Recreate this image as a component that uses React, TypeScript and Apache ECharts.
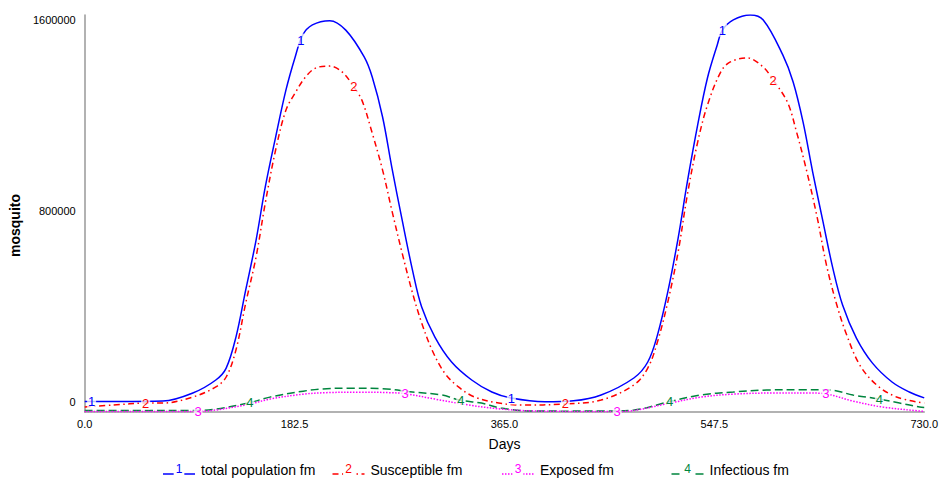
import React, { useEffect, useRef } from "react";
import * as echarts from "echarts";

// ---- data ----
const seriesNames = ["total population fm", "Susceptible fm", "Exposed fm", "Infectious fm"];
const seriesMarks = ["1", "2", "3", "4"];
const seriesColors = ["#0000ff", "#ff0000", "#ff00ff", "#00853e"];

const totalDays = [0, 30, 68, 94, 114, 123, 131.5, 140, 149, 157, 166, 175, 183, 189.5, 198, 213, 227, 243, 250, 259, 267, 276, 285, 293, 304.5, 319, 336.5, 354, 371, 400, 425, 449, 477.5, 489.6, 498, 507, 516, 524, 533, 541.5, 550, 554.5, 564, 578.7, 590, 607, 616, 624.6, 633, 642, 650.5, 659, 671, 685, 702, 717, 730];
const totalValues = [42000, 42000, 44000, 76600, 129000, 177000, 302000, 492000, 693000, 907000, 1108000, 1298000, 1431000, 1519000, 1560000, 1577000, 1539000, 1431000, 1350000, 1189000, 987000, 774000, 572000, 423000, 302000, 201500, 129000, 80600, 56000, 41000, 45000, 68500, 137000, 201500, 310000, 484000, 701000, 927000, 1157000, 1346000, 1479000, 1539000, 1580000, 1600000, 1580000, 1439000, 1330000, 1169000, 967000, 766000, 580000, 431000, 298000, 197000, 121000, 80600, 57000];

const susceptibleDays = [0, 25, 53, 68, 94, 114, 123, 131.5, 140, 149, 157, 166, 175, 183, 192, 200.7, 213, 224, 234, 241, 250, 259, 267, 276, 285, 293, 302, 313, 325, 339, 360, 380, 417, 449, 477.5, 489.6, 498, 507, 516, 524, 533, 541.5, 553, 561, 576, 590, 598.6, 611, 619, 628, 637, 645, 654, 662.6, 674, 688.6, 706, 730];
const susceptibleValues = [20000, 28000, 36000, 36000, 60500, 101000, 141000, 250000, 439000, 625000, 842000, 1056000, 1217000, 1286000, 1350000, 1386000, 1394000, 1370000, 1310000, 1257000, 1124000, 975000, 814000, 641000, 480000, 359000, 250000, 157000, 101000, 60500, 36000, 28000, 32000, 48000, 109000, 177000, 282000, 443000, 645000, 875000, 1088000, 1237000, 1370000, 1410000, 1427000, 1390000, 1338000, 1249000, 1128000, 967000, 782000, 592000, 431000, 310000, 189000, 109000, 60500, 36000];

const exposedDays = [0, 94, 114, 143.6, 161, 190, 210, 240, 265, 278.5, 304.5, 334, 362, 391, 462, 477.5, 507, 536, 564, 600, 630, 645, 668, 694, 726, 730];
const exposedValues = [2000, 2000, 8000, 32000, 52000, 72000, 78000, 80000, 78000, 74000, 52000, 28000, 12000, 4000, 2000, 6000, 34000, 60000, 72000, 76500, 76500, 72500, 44000, 20000, 4000, 3000];

const infectiousDays = [0, 50, 94, 114, 143.6, 161, 190, 207, 230, 259, 285, 310.5, 326, 345, 362, 391, 449, 477.5, 507, 535.5, 564, 593, 622, 648, 668, 691, 708.5, 726, 730];
const infectiousValues = [6000, 6000, 6000, 12000, 38000, 60000, 84000, 93000, 96000, 94000, 80600, 68500, 48000, 36000, 16000, 4000, 4000, 8000, 40000, 68500, 80600, 88700, 90000, 88700, 68500, 52000, 36000, 20000, 18000];

// days at which each curve carries its number label
const labelDays = [
  [6, 188, 371, 554.5],
  [53, 234, 418, 598.6],
  [98.6, 278.5, 463, 644.5],
  [143.6, 327, 508.6, 691],
];

const xMin = 0;
const xMax = 730;
const xStep = 182.5;
const yMin = 0;
const yMax = 1600000;
const yStep = 800000;

const FONT = "'Liberation Sans', Arial, Helvetica, sans-serif";

function interp(days: number[], vals: number[], d: number) {
  for (let i = 0; i < days.length - 1; i++) {
    if (d >= days[i] && d <= days[i + 1]) {
      const t = (d - days[i]) / (days[i + 1] - days[i]);
      return vals[i] + t * (vals[i + 1] - vals[i]);
    }
  }
  return vals[vals.length - 1];
}

export default function App() {
  const ref = useRef<HTMLDivElement>(null);

  useEffect(() => {
    if (!ref.current) return;
    const chart = echarts.init(ref.current, undefined, { renderer: "svg" });

    const daysList = [totalDays, susceptibleDays, exposedDays, infectiousDays];
    const valsList = [totalValues, susceptibleValues, exposedValues, infectiousValues];
    const dashes: any[] = ["solid", [6, 3.5, 1.5, 3.5], [1.5, 1.5], [8, 4]];

    const series = seriesNames.map((name, i) => ({
      name,
      type: "line",
      smooth: 0.35,
      symbol: "none",
      data: daysList[i].map((d, k) => [d, valsList[i][k]]),
      lineStyle: { color: seriesColors[i], width: 1.5, type: dashes[i] },
      itemStyle: { color: seriesColors[i] },
      z: 4 - i,
      markPoint: {
        silent: true,
        symbol: "rect",
        symbolSize: [9, 13],
        itemStyle: { color: "rgba(255,255,255,0.75)" },
        label: {
          show: true,
          position: "inside",
          formatter: seriesMarks[i],
          color: seriesColors[i],
          fontSize: 13,
          fontFamily: FONT,
        },
        data: labelDays[i].map((d) => ({
          coord: [d, interp(daysList[i], valsList[i], d)],
        })),
      },
    }));

    const legendItems: any[] = [];
    seriesNames.forEach((name, i) => {
      const x0 = 163 + 169.5 * i;
      legendItems.push({
        type: "line",
        shape: { x1: x0, y1: 474, x2: x0 + 32, y2: 474 },
        style: {
          stroke: seriesColors[i],
          lineWidth: 1.5,
          lineDash: dashes[i] === "solid" ? null : dashes[i],
        },
        z: 10,
      });
      legendItems.push({
        type: "text",
        x: x0 + 16,
        y: 469,
        style: {
          text: seriesMarks[i],
          fill: seriesColors[i],
          font: `12px ${FONT}`,
          align: "center",
          verticalAlign: "middle",
          backgroundColor: "#fff",
          padding: [0, 2],
        },
        z: 11,
      });
      legendItems.push({
        type: "text",
        x: x0 + 38,
        y: 470,
        style: {
          text: name,
          fill: "#000",
          font: `14px ${FONT}`,
          align: "left",
          verticalAlign: "middle",
        },
        z: 11,
      });
    });

    chart.setOption({
      animation: false,
      backgroundColor: "#fff",
      textStyle: { fontFamily: FONT },
      grid: { left: 81, right: 16, top: 15, bottom: 69, containLabel: false },
      xAxis: {
        type: "value",
        min: xMin,
        max: xMax,
        interval: xStep,
        name: "Days",
        nameLocation: "middle",
        nameGap: 25,
        nameTextStyle: { fontSize: 14, color: "#000", fontFamily: FONT },
        axisLine: { show: true, lineStyle: { color: "#999", width: 1.5 } },
        axisTick: { show: false },
        splitLine: { show: false },
        axisLabel: {
          color: "#000",
          fontSize: 11,
          margin: 6,
          fontFamily: FONT,
          showMinLabel: true,
          showMaxLabel: true,
          formatter: (v: number) => v.toFixed(1),
        },
      },
      yAxis: {
        type: "value",
        min: yMin,
        max: yMax,
        interval: yStep,
        name: "mosquito",
        nameLocation: "middle",
        nameRotate: 90,
        nameGap: 57,
        nameTextStyle: {
          fontSize: 14,
          color: "#000",
          fontFamily: FONT,
          fontWeight: "bold",
          padding: [0, 24, 0, 0],
        },
        axisLine: { show: true, lineStyle: { color: "#999", width: 1.5 } },
        axisTick: { show: false },
        splitLine: { show: false },
        axisLabel: {
          color: "#000",
          fontSize: 11,
          margin: 9,
          fontFamily: FONT,
          showMinLabel: true,
          showMaxLabel: true,
          formatter: (v: number) =>
            v === yMax ? `{t|${v}}` : v === yMin ? `{b|${v}}` : `{m|${v}}`,
          rich: {
            t: { fontSize: 11, color: "#000", fontFamily: FONT, padding: [10, 0, 0, 0] },
            b: { fontSize: 11, color: "#000", fontFamily: FONT, padding: [0, 0, 20, 0] },
            m: { fontSize: 11, color: "#000", fontFamily: FONT, padding: [0, 0, 5, 0] },
          },
        },
      },
      series,
      graphic: legendItems,
    });

    return () => chart.dispose();
  }, []);

  return (
    <div
      ref={ref}
      style={{ position: "fixed", left: 0, top: 0, width: 941, height: 481, background: "#fff" }}
    />
  );
}
